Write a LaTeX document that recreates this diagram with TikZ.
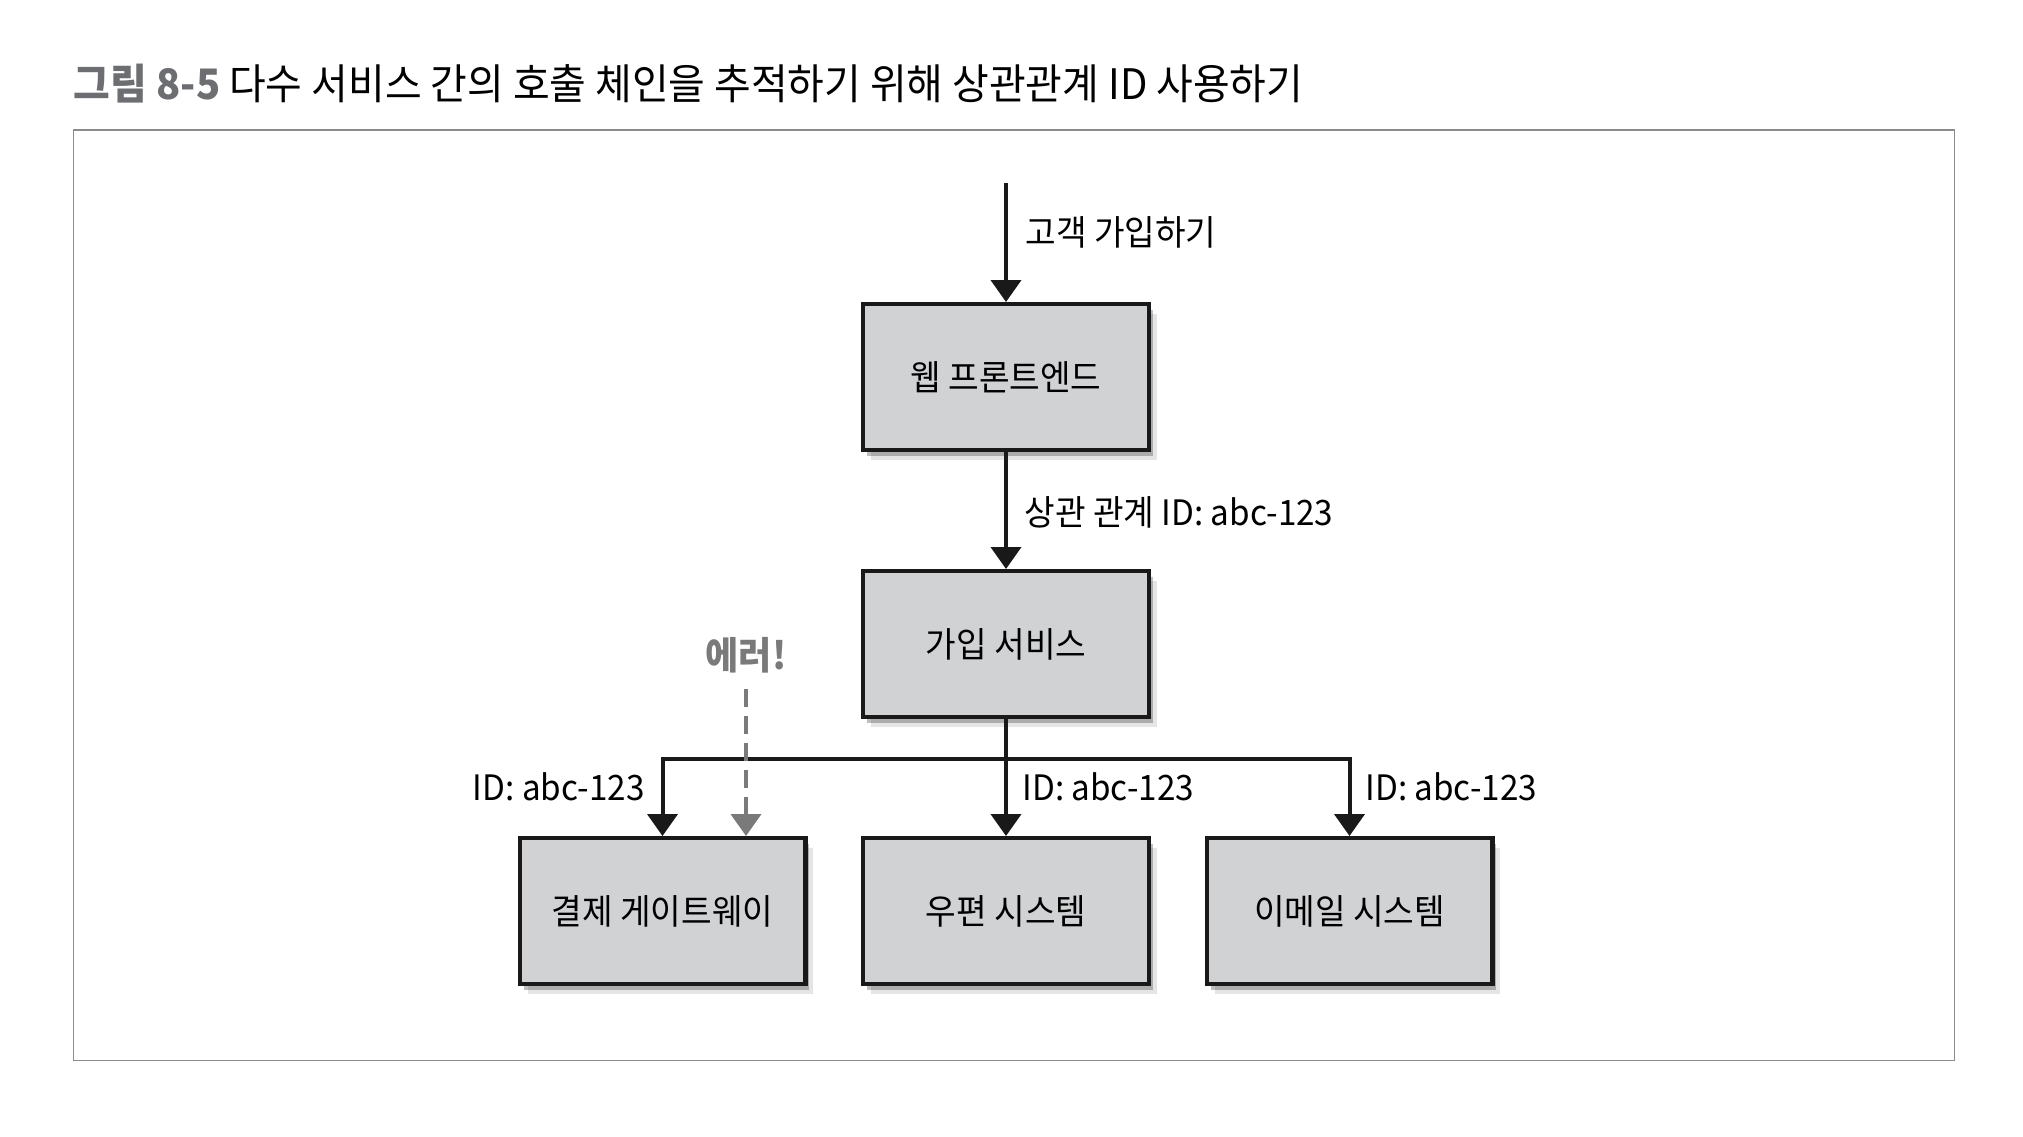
\documentclass[tikz,border=0pt]{standalone}
\usepackage{fontspec}
\setmainfont{Noto Sans CJK KR}[FakeStretch=0.95]
\usepackage{xcolor}
\usepackage{tikz}
\usetikzlibrary{arrows.meta,shadows}

\definecolor{boxgray}{HTML}{D1D2D4}
\definecolor{titlegray}{HTML}{6D6E71}
\definecolor{framegray}{HTML}{8C8C8C}
\definecolor{errgray}{HTML}{7A7A7A}

\begin{document}
\begin{tikzpicture}[x=0.5pt,y=-0.5pt,
        svcbox/.style={draw=black!90,line width=2.2pt,fill=boxgray,
            minimum width=142.8pt,minimum height=72.8pt,inner sep=0pt,
            font=\fontsize{17.5}{20}\selectfont,
            drop shadow={shadow xshift=4pt,shadow yshift=-5pt,opacity=0.10,fill=black},
            drop shadow={shadow xshift=2pt,shadow yshift=-3pt,opacity=0.25,fill=black}},
        flow/.style={line width=2pt,black!90,-{Triangle[length=11pt,width=15pt]}},
        errflow/.style={line width=2pt,errgray,dash pattern=on 9pt off 4.5pt,
            -{Triangle[length=11pt,width=15pt]}},
        lbl/.style={font=\fontsize{17.5}{20}\selectfont,inner sep=0pt}]

        \useasboundingbox (0,0) rectangle (2023,1136);

        % caption and frame
        \node[anchor=west,inner sep=0pt,font=\fontsize{21}{24}\selectfont] (title) at (73.5,84)
            {{\bfseries\color{titlegray}그림 8-5} 다수 서비스 간의 호출 체인을 추적하기 위해 상관관계 ID 사용하기};
        \draw[framegray,line width=0.75pt] (73.5,130) rectangle (1954.5,1060.5);

        \coordinate (start) at (1006,183);
        \coordinate (fork) at (1006,758.5);

        \node[svcbox] (web) at (1006,377) {웹 프론트엔드};
        \node[svcbox] (signup) at (1006,644) {가입 서비스};
        \node[svcbox] (pay) at (662.5,911) {결제 게이트웨이};
        \node[svcbox] (post) at (1006,911) {우편 시스템};
        \node[svcbox] (mail) at (1349.5,911) {이메일 시스템};

        \draw[flow] (start) -- (web);
        \draw[flow] (web) -- (signup);
        \draw[flow] (signup) -- (post);
        \draw[flow] (fork) -| (pay.north);
        \draw[flow] (fork) -| (mail.north);

        \node[lbl,anchor=west] (signuplbl) at (1025,232) {고객 가입하기};
        \node[lbl,anchor=west] (corrlbl) at (1024,512) {상관 관계 ID: abc-123};
        \node[lbl,anchor=east] (paylbl) at (645,787) {ID: abc-123};
        \node[lbl,anchor=west] (postlbl) at (1022,787) {ID: abc-123};
        \node[lbl,anchor=west] (maillbl) at (1365,787) {ID: abc-123};

        % the failing call
        \node[inner sep=0pt,text=errgray,font=\bfseries\fontsize{19}{22}\selectfont] (err) at (746,655) {에러!};
        \draw[errflow,shorten <=8pt] (err) -- (err |- pay.north);

\end{tikzpicture}
\end{document}
